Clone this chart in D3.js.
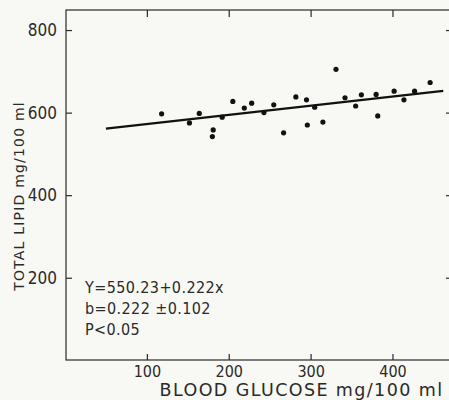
<!DOCTYPE html>
<html><head><meta charset="utf-8">
<script src="https://cdn.jsdelivr.net/npm/d3@7"></script>
<style>
html,body{margin:0;padding:0;background:#f8f8f4;}
svg{display:block;}
text{font-family:"DejaVu Sans Condensed","Liberation Sans Narrow","DejaVu Sans",sans-serif;fill:#2a2a2a;}
</style></head>
<body>
<script>
const glucose = [118,152,164,181,180,192,205,219,228,243,255,267,282,295,305,296,315,331,342,355,362,380,382,402,414,427,446];
const lipid   = [597,575,598,558,542,589,627,611,623,600,619,551,638,631,613,570,577,705,636,616,643,644,592,652,631,652,673];
const xTicks = [100,200,300,400];
const yTicks = [200,400,600,800];
const fitIntercept = 550.23, fitSlope = 0.222;
const fitRange = [50, 462];
const equationLines = ["Y=550.23+0.222x", "b=0.222 \u00b10.102", "P<0.05"];
const xTitle = "BLOOD GLUCOSE mg/100 ml";
const yTitle = "TOTAL LIPID mg/100 ml";

(function(){
const W = 449, H = 400;
const ink = "#2a2a2a";
const svg = d3.select("body").append("svg").attr("width", W).attr("height", H);

const x = d3.scaleLinear().domain([0, 470]).range([65, 65 + 0.8187*470]);
const y = d3.scaleLinear().domain([0, 850]).range([360.3, 360.3 - 0.4128*850]);

const fL = x(0) + 1, fR = 451, fT = 10, fB = 360;

svg.append("rect").attr("x", fL).attr("y", fT).attr("width", fR-fL).attr("height", fB-fT)
  .attr("fill","none").attr("stroke", ink).attr("stroke-width", 1.2);

const gx = svg.append("g").attr("transform", `translate(0,${fB})`)
  .call(d3.axisBottom(x).tickValues(xTicks).tickSizeInner(-6).tickSizeOuter(0).tickPadding(6));
gx.select(".domain").remove();
gx.selectAll("line").attr("stroke", ink).attr("stroke-width", 1.2);
gx.selectAll("text").attr("font-size", 16).attr("fill", ink);

const gxt = svg.append("g").attr("transform", `translate(0,${fT})`)
  .call(d3.axisTop(x).tickValues(xTicks).tickSizeInner(-7).tickSizeOuter(0).tickFormat(""));
gxt.select(".domain").remove();
gxt.selectAll("line").attr("stroke", ink).attr("stroke-width", 1.2);

const gy = svg.append("g").attr("transform", `translate(${fL},0)`)
  .call(d3.axisLeft(y).tickValues(yTicks).tickSizeInner(-6).tickSizeOuter(0).tickPadding(9));
gy.select(".domain").remove();
gy.selectAll("line").attr("stroke", ink).attr("stroke-width", 1.2);
gy.selectAll("text").attr("font-size", 17).attr("fill", ink);

const gyr = svg.append("g").attr("transform", `translate(${fR},0)`)
  .call(d3.axisRight(y).tickValues(yTicks).tickSizeInner(-5).tickSizeOuter(0).tickFormat(""));
gyr.select(".domain").remove();
gyr.selectAll("line").attr("stroke", ink).attr("stroke-width", 1.2);

const fit = fitRange.map(v => [v, fitIntercept + fitSlope*v]);
svg.append("path").datum(fit)
  .attr("d", d3.line().x(d => x(d[0])).y(d => y(d[1])))
  .attr("stroke", "#111").attr("stroke-width", 2.2).attr("fill","none");

svg.append("g").selectAll("circle").data(glucose.map((g,i)=>[g, lipid[i]])).join("circle")
  .attr("cx", d => x(d[0])).attr("cy", d => y(d[1])).attr("r", 2.6).attr("fill", "#111");

svg.append("g").selectAll("text").data(equationLines).join("text")
  .attr("x", 85).attr("y", (d,i) => 292.5 + i*21.3)
  .attr("font-size", 16).attr("letter-spacing", 0.4).text(d => d);

svg.append("text").attr("x", 301.5).attr("y", 396).attr("text-anchor","middle")
  .style("font-family", "'DejaVu Sans', sans-serif")
  .attr("font-size", 17.5).attr("letter-spacing", 1.4).text(xTitle);
svg.append("text").attr("transform", "translate(24,196) rotate(-90)").attr("text-anchor","middle")
  .style("font-family", "'DejaVu Sans', sans-serif")
  .attr("font-size", 14).attr("letter-spacing", 1.2).text(yTitle);
})();
</script>
</body></html>
